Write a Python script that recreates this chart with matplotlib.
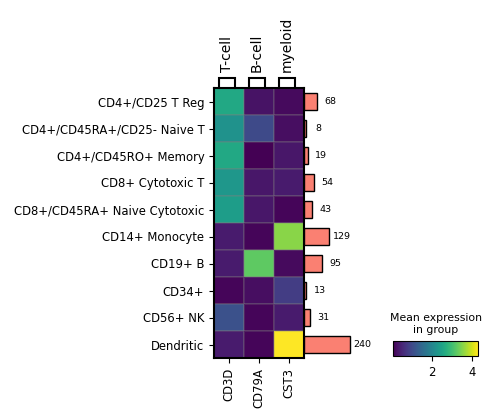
import numpy as np
import matplotlib
matplotlib.use("Agg")
import matplotlib.pyplot as plt

# cell groups (rows) and genes (columns)
groups = ["CD4+/CD25 T Reg", "CD4+/CD45RA+/CD25- Naive T", "CD4+/CD45RO+ Memory",
          "CD8+ Cytotoxic T", "CD8+/CD45RA+ Naive Cytotoxic", "CD14+ Monocyte",
          "CD19+ B", "CD34+", "CD56+ NK", "Dendritic"]
genes = ["CD3D", "CD79A", "CST3"]
gene_groups = ["T-cell", "B-cell", "myeloid"]

# mean expression
cd3d = [2.6, 2.2, 2.6, 2.3, 2.4, 0.35, 0.35, 0.1, 1.1, 0.35]
cd79a = [0.25, 1.0, 0.05, 0.3, 0.3, 0.1, 3.25, 0.2, 0.1, 0.1]
cst3 = [0.15, 0.2, 0.3, 0.35, 0.1, 3.55, 0.15, 0.8, 0.35, 4.3]
counts = [68, 8, 19, 54, 43, 129, 95, 13, 31, 240]

vmin, vmax = 0.05, 4.3
W, H = 495, 417

fig = plt.figure(figsize=(W / 100, H / 100), dpi=100)

def px_axes(x0, y0, x1, y1):
    return fig.add_axes([x0 / W, 1 - y1 / H, (x1 - x0) / W, (y1 - y0) / H])

mat = np.array([cd3d, cd79a, cst3]).T
n_rows, n_cols = mat.shape

# main heatmap
ax = px_axes(214, 88, 304, 358)
mesh = ax.pcolormesh(np.arange(n_cols + 1), np.arange(n_rows + 1), mat,
                     cmap="viridis", vmin=vmin, vmax=vmax,
                     edgecolors=(0.5, 0.5, 0.5, 0.25), linewidth=0.3)
ax.set_xlim(0, n_cols)
ax.set_ylim(n_rows, 0)
ax.set_yticks(np.arange(n_rows) + 0.5)
ax.set_yticklabels(groups, fontsize=8.4)
ax.set_xticks(np.arange(n_cols) + 0.5)
ax.set_xticklabels(genes, fontsize=8.4, rotation=90)
for s in ax.spines.values():
    s.set_linewidth(1.5)

# brackets for gene groups
bax = px_axes(214, 76, 304, 88)
bax.set_xlim(0, n_cols)
bax.set_ylim(0, 1)
bax.axis("off")
for i, g in enumerate(gene_groups):
    l, r = i + 0.17, i + 0.7
    bax.plot([l, l, r, r], [0, 0.8, 0.8, 0], color="black", lw=1.5,
             solid_joinstyle="miter", clip_on=False)
    bax.text((l + r) / 2, 1.3, g, rotation=90, ha="center", va="bottom",
             fontsize=10)

# totals bar
tax = px_axes(304, 88, 368, 358)
tax.barh(np.arange(n_rows) + 0.5, counts, height=0.66, color="salmon",
         edgecolor="black", linewidth=1)
for i, c in enumerate(counts):
    tax.text(c + max(counts) * 0.285, i + 0.5, str(c), va="center",
             ha="center", fontsize=6.8, clip_on=False)
tax.set_ylim(n_rows, 0)
tax.set_xlim(0, max(counts) * 1.4)
tax.axis("off")

# colorbar
cax = px_axes(393, 341, 478, 356)
cb = fig.colorbar(mesh, cax=cax, orientation="horizontal")
cb.set_ticks([2, 4])
cax.tick_params(labelsize=8.4)
cax.set_title("Mean expression\nin group", fontsize=7.8)

fig.savefig("out.png", dpi=100)
